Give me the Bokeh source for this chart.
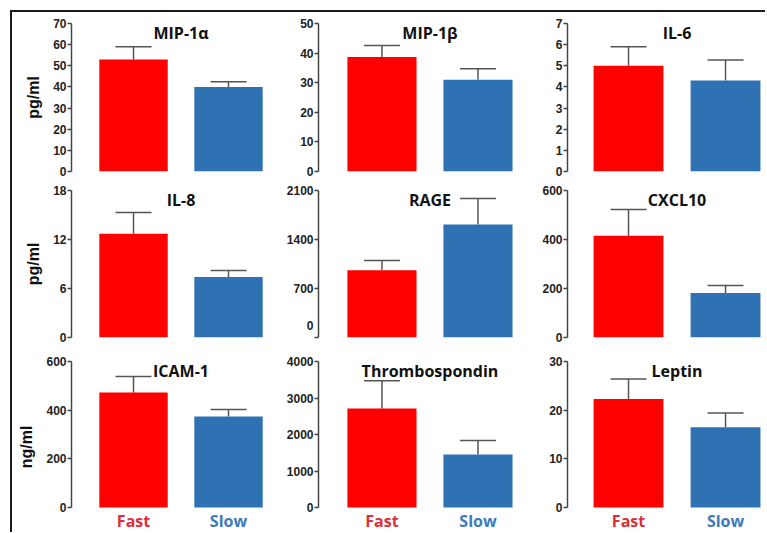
from bokeh.plotting import figure
from bokeh.models import ColumnDataSource, Range1d, FixedTicker, Whisker, TeeHead, Label, Spacer
from bokeh.layouts import column, row
from bokeh.core.properties import value
from bokeh.embed import file_html
from bokeh.resources import INLINE

# ---------------- data ----------------
panels = ["MIP-1α", "MIP-1β", "IL-6", "IL-8", "RAGE", "CXCL10", "ICAM-1", "Thrombospondin", "Leptin"]
groups = ["Fast", "Slow"]
fast_mean = [53, 38.7, 5.0, 12.7, 960, 415, 473, 2710, 22.3]
fast_upper = [59, 42.6, 5.9, 15.3, 1100, 522, 538, 3470, 26.4]
slow_mean = [40, 31, 4.3, 7.4, 1615, 182, 374, 1455, 16.5]
slow_upper = [42.5, 34.7, 5.27, 8.2, 1985, 212, 403, 1835, 19.4]
y_max = [70, 50, 7, 18, 2100, 600, 600, 4000, 30]
y_ticks = [
    [0, 10, 20, 30, 40, 50, 60, 70],
    [0, 10, 20, 30, 40, 50],
    [0, 1, 2, 3, 4, 5, 6, 7],
    [0, 6, 12, 18],
    [0, 700, 1400, 2100],
    [0, 200, 400, 600],
    [0, 200, 400, 600],
    [0, 1000, 2000, 3000, 4000],
    [0, 10, 20, 30],
]
units = ["pg/ml", "", "", "pg/ml", "", "", "ng/ml", "", ""]

# ---------------- styling / layout ----------------
RED = "#ff0000"
BLUE = "#2e72b4"
GROUP_TXT = ["#dc2f3a", "#3b7bbb"]
AXIS = "#444444"
TITLE_FONT = "Open Sans"
TICK_FONT = "Liberation Sans"

col_w = [252, 249, 252]
col_left = [59, 54, 54]
col_x = [(0.347, 2.379), (0.339, 2.370), (0.371, 2.412)]
row_h = [168, 169, 183]
row_top = [11, 10, 12]
row_bot = [9, 12, 0]
plot_px = 146          # pixel height of the 0..max part of each panel
name_gap = 13          # group names sit this many pixels under the zero line

figs = []
for i, name in enumerate(panels):
    r, c = divmod(i, 3)
    below = row_h[r] - row_top[r] - row_bot[r] - plot_px if r == 2 else 0
    y0 = -y_max[i] * below / plot_px
    p = figure(width=col_w[c], height=row_h[r], output_backend="svg", toolbar_location=None,
               x_axis_location=None, x_range=Range1d(*col_x[c]), y_range=Range1d(y0, y_max[i]),
               min_border_left=col_left[c], min_border_right=0,
               min_border_top=row_top[r], min_border_bottom=row_bot[r])
    p.outline_line_color = None
    p.grid.visible = False

    src = ColumnDataSource(dict(
        x=[1, 2], top=[fast_mean[i], slow_mean[i]], up=[fast_upper[i], slow_upper[i]],
        color=[RED, BLUE]))
    p.vbar(x="x", top="top", bottom=0, width=0.72, fill_color="color", line_color=None, source=src)
    w = Whisker(source=src, base="x", lower="top", upper="up", line_color="#555555", line_width=1.5,
                upper_head=TeeHead(size=36, line_color="#555555", line_width=1.5), lower_head=None)
    p.add_layout(w)

    ax = p.yaxis[0]
    ax.bounds = (0, y_max[i])
    ax.ticker = FixedTicker(ticks=y_ticks[i])
    ax.axis_line_color = AXIS
    ax.axis_line_width = 1.5
    ax.major_tick_line_color = AXIS
    ax.major_tick_line_width = 1.5
    ax.major_tick_out = 4
    ax.major_tick_in = 0
    ax.minor_tick_line_color = None
    ax.major_label_text_font = TICK_FONT
    ax.major_label_text_font_style = "bold"
    ax.major_label_text_font_size = "12px"
    ax.major_label_text_color = "#222222"
    ax.major_label_standoff = 1
    if units[i]:
        ax.axis_label = units[i]
        ax.axis_label_text_font = TICK_FONT
        ax.axis_label_text_font_style = "bold"
        ax.axis_label_text_font_size = "16px"
        ax.axis_label_text_color = "#111111"
        ax.axis_label_standoff = 8
    if name == "RAGE":
        # the reference prints its zero label above the axis base
        ax.major_label_overrides = {0: "0\n "}

    p.add_layout(Label(x=1.5, y=y_max[i], y_offset=-9, text=name, text_font=TITLE_FONT,
                       text_font_style="bold", text_font_size="16px", text_color="#111111",
                       text_align="center", text_baseline="middle"))
    if below:
        yl = -y_max[i] * name_gap / plot_px
        p.text(x=[1, 2], y=[yl, yl], text=groups, text_color=GROUP_TXT,
               text_font=value(TITLE_FONT), text_font_style="bold", text_font_size="16px",
               text_align="center", text_baseline="middle")
    figs.append(p)

grid = column(
    row(*figs[0:3], spacing=0),
    row(*figs[3:6], spacing=0),
    row(*figs[6:9], spacing=0),
    spacing=0)
grid.styles = {"border-top": "2px solid #1a1a1a", "border-left": "2px solid #1a1a1a"}

layout = column(Spacer(width=10, height=10),
                row(Spacer(width=10, height=10), grid, spacing=0),
                spacing=0)

open("out.html", "w").write(file_html(layout, INLINE))
